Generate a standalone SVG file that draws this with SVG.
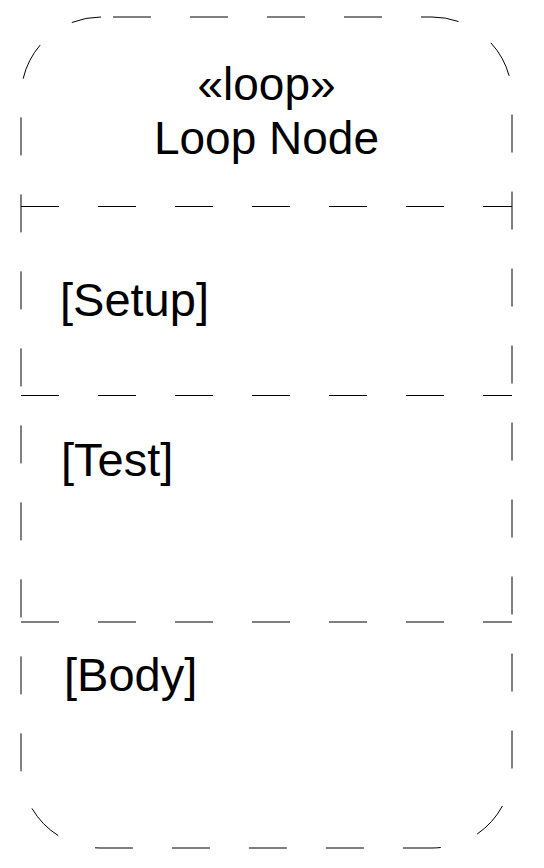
<svg xmlns="http://www.w3.org/2000/svg" width="544" height="868" viewBox="0 0 544 868">
<style>
.ln{fill:none;stroke:#000;stroke-width:1;stroke-dasharray:38 39}
.t{font-family:"Liberation Sans",Arial,sans-serif;font-size:47px;fill:#000}
.h{font-size:46px}
</style>
<rect width="544" height="868" fill="#fff"/>
<g id="loop-node">
<path class="ln" style="stroke-dashoffset:65" d="M101,17 H432 A80,80 0 0 1 512,97 V768 A80,80 0 0 1 432,848 H101 A80,80 0 0 1 21,768 V97 A80,80 0 0 1 101,17 Z"/>
<text class="t h" x="266.5" y="100" text-anchor="middle">«loop»</text>
<text class="t h" x="266.5" y="154" text-anchor="middle">Loop Node</text>
</g>
<g id="connectors">
<line class="ln" x1="21" y1="206.5" x2="512" y2="206.5"/>
<line class="ln" x1="21" y1="395.5" x2="512" y2="395.5"/>
<line class="ln" x1="21" y1="622" x2="512" y2="622"/>
</g>
<g id="setup"><text class="t" x="60" y="316">[Setup]</text></g>
<g id="test"><text class="t" x="61" y="476">[Test]</text></g>
<g id="body"><text class="t" x="64" y="691">[Body]</text></g>
</svg>
